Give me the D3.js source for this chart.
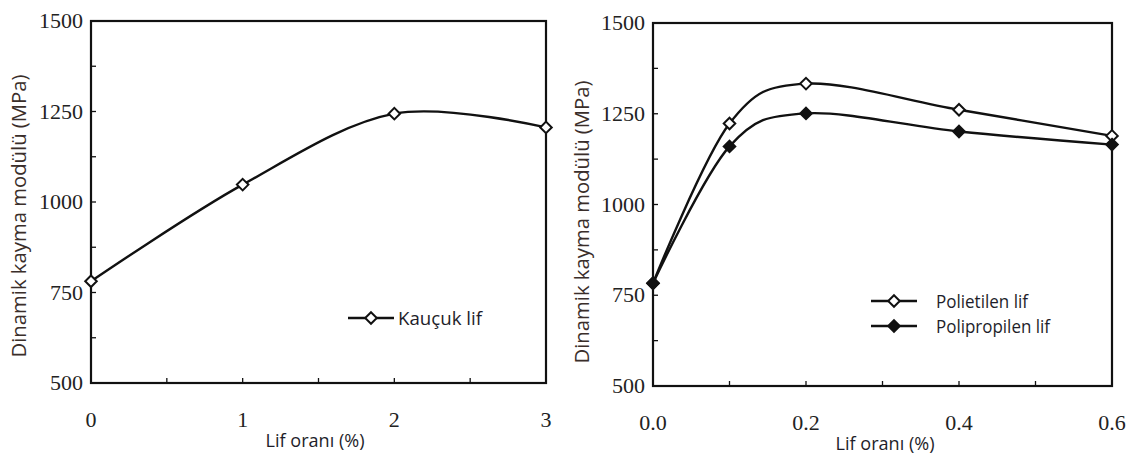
<!DOCTYPE html>
<html>
<head>
<meta charset="utf-8">
<script src="https://cdn.jsdelivr.net/npm/d3@7"></script>
<style>
  body { margin: 0; background: #fff; }
  svg { display: block; }
</style>
</head>
<body>
<div class="chart"></div>
<script>
// data
let leftX = [0, 1, 2, 3];
let kaucuk = [781, 1048, 1244, 1206];

let rightX = [0.0, 0.1, 0.2, 0.4, 0.6];
let polietilen = [783, 1223, 1333, 1261, 1189];
let polipropilen = [783, 1160, 1251, 1201, 1165];

let yTicks = [500, 750, 1000, 1250, 1500];
let yMinor = [625, 875, 1125, 1375];
let leftTicks = [0, 1, 2, 3];
let leftMinor = [0.5, 1.5, 2.5];
let rightTicks = [0.0, 0.2, 0.4, 0.6];
let rightMinor = [0.1, 0.3, 0.5];

let W = 1133, H = 460;
let serif = '"Liberation Serif", "Times New Roman", serif';
let sans = '"Open Sans", "Noto Sans", sans-serif';
let titleColor = '#3a2e2a';

let svg = d3.select('div.chart').append('svg')
  .attr('width', W).attr('height', H);

function panel(opt) {
  let x = d3.scaleLinear().domain(opt.xDomain).range([opt.left, opt.right]);
  let y = d3.scaleLinear().domain([500, 1500]).range([opt.bottom, opt.top]);
  let g = svg.append('g');

  // frame
  g.append('rect')
    .attr('x', opt.left).attr('y', opt.top)
    .attr('width', opt.right - opt.left).attr('height', opt.bottom - opt.top)
    .attr('fill', 'none').attr('stroke', '#111').attr('stroke-width', 2.2);

  // inward ticks on y
  g.selectAll('.yt').data(yTicks.concat(yMinor)).enter().append('line')
    .attr('x1', opt.left).attr('x2', opt.left + 5)
    .attr('y1', d => y(d)).attr('y2', d => y(d))
    .attr('stroke', '#111').attr('stroke-width', 1.3);

  // inward ticks on x
  g.selectAll('.xt').data(opt.xTicks.concat(opt.xMinor)).enter().append('line')
    .attr('x1', d => x(d)).attr('x2', d => x(d))
    .attr('y1', opt.bottom).attr('y2', opt.bottom - 5)
    .attr('stroke', '#111').attr('stroke-width', 1.3);

  // y labels
  g.selectAll('.yl').data(yTicks).enter().append('text')
    .attr('x', opt.left - 8).attr('y', d => y(d) + 7)
    .attr('text-anchor', 'end')
    .attr('font-family', serif).attr('font-size', 22).attr('fill', '#222')
    .text(d => d);

  // x labels
  g.selectAll('.xl').data(opt.xTicks).enter().append('text')
    .attr('x', d => x(d)).attr('y', opt.bottom + 44)
    .attr('text-anchor', 'middle')
    .attr('font-family', serif).attr('font-size', 22).attr('fill', '#222')
    .text(d => opt.fmt(d));

  // axis titles
  g.append('text')
    .attr('x', opt.xTitleX).attr('y', opt.bottom + 64)
    .attr('text-anchor', 'middle')
    .attr('font-family', sans).attr('font-size', 19).attr('fill', '#1e1e2a')
    .attr('textLength', 99).attr('lengthAdjust', 'spacingAndGlyphs')
    .text('Lif oranı (%)');

  g.append('text')
    .attr('transform', 'translate(' + opt.yTitleX + ',' + opt.yTitleY + ') rotate(-90)')
    .attr('text-anchor', 'middle')
    .attr('font-family', sans).attr('font-size', 20).attr('fill', titleColor)
    .attr('textLength', 283).attr('lengthAdjust', 'spacingAndGlyphs')
    .text('Dinamik kayma modülü (MPa)');

  let line = d3.line()
    .x(d => x(d[0])).y(d => y(d[1]))
    .curve(d3.curveCardinal.tension(0));

  let diamond = d3.symbol().type(d3.symbolDiamond2).size(85);

  opt.series.forEach(function(s) {
    let pts = opt.xs.map((v, i) => [v, s.values[i]]);
    g.append('path')
      .attr('d', line(pts))
      .attr('fill', 'none').attr('stroke', '#111').attr('stroke-width', 2.4);
    g.selectAll(null).data(pts).enter().append('path')
      .attr('d', diamond)
      .attr('transform', d => 'translate(' + x(d[0]) + ',' + y(d[1]) + ')')
      .attr('fill', s.filled ? '#111' : '#fff')
      .attr('stroke', '#111').attr('stroke-width', 2);
  });

  // legend
  opt.series.forEach(function(s, i) {
    let ly = opt.legY + i * 25;
    g.append('line')
      .attr('x1', opt.legX).attr('x2', opt.legX + 46)
      .attr('y1', ly).attr('y2', ly)
      .attr('stroke', '#111').attr('stroke-width', 2.4);
    g.append('path')
      .attr('d', diamond)
      .attr('transform', 'translate(' + (opt.legX + 23) + ',' + ly + ')')
      .attr('fill', s.filled ? '#111' : '#fff')
      .attr('stroke', '#111').attr('stroke-width', 2);
    g.append('text')
      .attr('x', opt.legTextX).attr('y', ly + 7)
      .attr('font-family', sans).attr('font-size', 19).attr('fill', '#1e1e2a')
      .attr('textLength', s.textLen).attr('lengthAdjust', 'spacingAndGlyphs')
      .text(s.name);
  });
}

panel({
  left: 91, right: 546, top: 21, bottom: 383,
  xDomain: [0, 3], xs: leftX, xTicks: leftTicks, xMinor: leftMinor,
  fmt: d => String(d),
  xTitleX: 315, yTitleX: 26, yTitleY: 216,
  legX: 348, legY: 318, legTextX: 398,
  series: [{name: 'Kauçuk lif', values: kaucuk, filled: false, textLen: 84}]
});

panel({
  left: 653, right: 1112, top: 23, bottom: 386,
  xDomain: [0, 0.6], xs: rightX, xTicks: rightTicks, xMinor: rightMinor,
  fmt: d => d.toFixed(1),
  xTitleX: 885, yTitleX: 589, yTitleY: 222,
  legX: 871, legY: 301, legTextX: 936,
  series: [
    {name: 'Polietilen lif', values: polietilen, filled: false, textLen: 92},
    {name: 'Polipropilen lif', values: polipropilen, filled: true, textLen: 114}
  ]
});
</script>
</body>
</html>
